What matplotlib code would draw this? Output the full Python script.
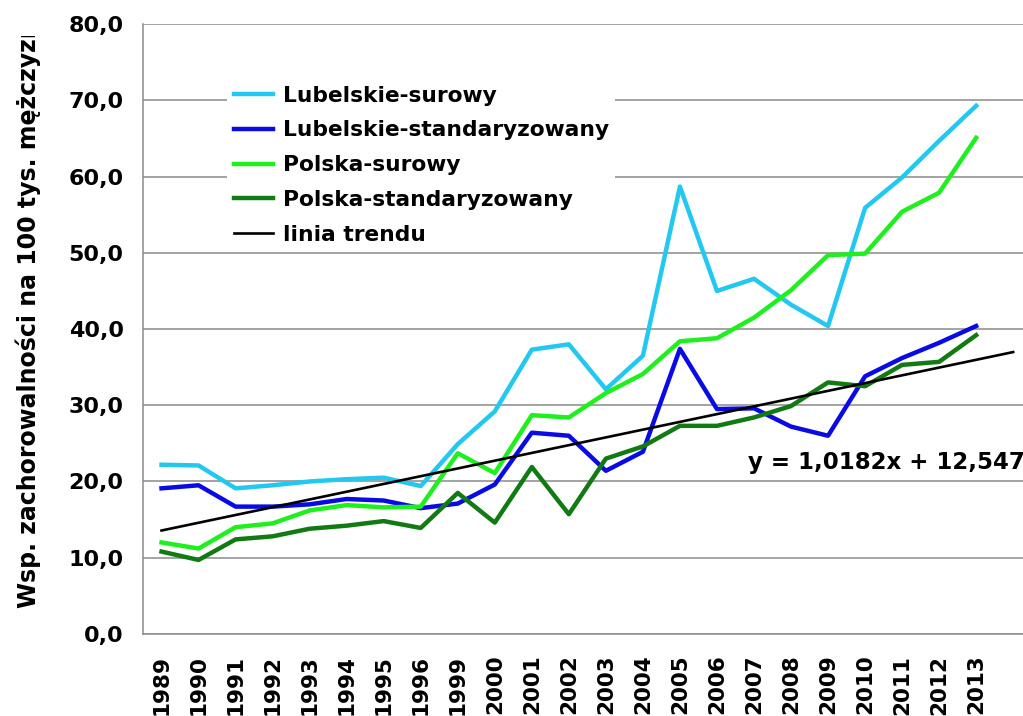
import numpy as np
import matplotlib
matplotlib.use('Agg')
import matplotlib.pyplot as plt
from matplotlib.ticker import FuncFormatter
from matplotlib.transforms import Bbox, TransformedBbox

years = ['1989', '1990', '1991', '1992', '1993', '1994', '1995', '1996', '1999',
         '2000', '2001', '2002', '2003', '2004', '2005', '2006', '2007', '2008',
         '2009', '2010', '2011', '2012', '2013']

lubelskie_surowy = [22.2, 22.1, 19.1, 19.5, 20.0, 20.3, 20.5, 19.4, 24.9, 29.2, 37.3, 38.0,
                    32.1, 36.5, 58.7, 45.0, 46.6, 43.2, 40.4, 55.9, 59.9, 64.7, 69.3]
lubelskie_std = [19.1, 19.5, 16.7, 16.7, 17.0, 17.7, 17.5, 16.5, 17.1, 19.6, 26.4, 26.0,
                 21.4, 23.9, 37.4, 29.5, 29.6, 27.2, 26.0, 33.8, 36.2, 38.2, 40.4]
polska_surowy = [12.0, 11.2, 14.0, 14.5, 16.2, 16.9, 16.6, 16.7, 23.7, 21.1, 28.7, 28.4,
                 31.6, 34.1, 38.4, 38.8, 41.5, 45.1, 49.7, 49.9, 55.4, 57.9, 65.1]
polska_std = [10.8, 9.7, 12.4, 12.8, 13.8, 14.2, 14.8, 13.9, 18.5, 14.6, 21.9, 15.7,
              23.0, 24.6, 27.3, 27.3, 28.4, 29.9, 33.0, 32.5, 35.3, 35.7, 39.2]

# linear trend y = 1.0182x + 12.547 (x = 1, 2, ...), drawn one period past the data
trend_slope = 1.0182
trend_intercept = 12.547
trend_x = np.array([1, 24])

fig = plt.figure(figsize=(10.23, 7.16), dpi=100)
ax = fig.add_axes([0.1398, 0.1147, 0.8687, 0.8514])

x = np.arange(len(years))
ax.plot(x, lubelskie_surowy, color='#22c8f0', lw=3.2, label='Lubelskie-surowy', zorder=3)
ax.plot(x, lubelskie_std, color='#0a0ae6', lw=3.2, label='Lubelskie-standaryzowany', zorder=3)
ax.plot(x, polska_surowy, color='#1ef01e', lw=3.2, label='Polska-surowy', zorder=3)
ax.plot(x, polska_std, color='#127a12', lw=3.2, label='Polska-standaryzowany', zorder=3)
ax.plot(trend_x - 1, trend_slope * trend_x + trend_intercept, color='black', lw=1.9,
        label='linia trendu', zorder=4)

ax.set_xlim(-0.5, 23.5)
ax.set_ylim(0, 80)
ax.set_yticks(np.arange(0, 81, 10))
ax.yaxis.set_major_formatter(FuncFormatter(lambda v, p: f'{v:.1f}'.replace('.', ',')))
ax.set_xticks(x)
ax.set_xticklabels(years, rotation=90)
ax.tick_params(axis='x', length=0, labelsize=15.5, pad=15)
ax.tick_params(axis='y', length=0, labelsize=16, pad=14)
for lbl in ax.get_xticklabels() + ax.get_yticklabels():
    lbl.set_fontweight('bold')

ax.grid(axis='y', color='#8a8a8a', lw=1.1, zorder=1)
ax.set_axisbelow(True)
for side in ['top', 'right']:
    ax.spines[side].set_visible(False)
for side in ['left', 'bottom']:
    ax.spines[side].set_color('#8a8a8a')
    ax.spines[side].set_linewidth(1.1)

leg = ax.legend(loc='upper left', bbox_to_anchor=(227 / 1023, 1 - 79 / 716),
                bbox_transform=fig.transFigure, borderaxespad=0, borderpad=0.3,
                frameon=True, fancybox=False, edgecolor='none', facecolor='white',
                framealpha=1, prop={'size': 15.7, 'weight': 'bold'},
                labelspacing=0.68, handlelength=1.8, handletextpad=0.45)
leg.set_zorder(5)

fig.text(748 / 1023, 1 - 462 / 716, 'y = 1,0182x + 12,547', fontsize=16.5,
         fontweight='bold', va='center', ha='left')

ylab = fig.text(28 / 1023, 1 - 608 / 716, 'Wsp. zachorowalności na 100 tys. mężczyzn',
                rotation=90, fontsize=17, fontweight='bold', va='bottom', ha='center')
# the axis title runs past the top of the chart area and is cut there
ylab.set_clip_box(TransformedBbox(Bbox([[0, 0], [140 / 1023, 1 - 36 / 716]]),
                                  fig.transFigure))
ylab.set_clip_on(True)

fig.savefig('out.png', dpi=100)
